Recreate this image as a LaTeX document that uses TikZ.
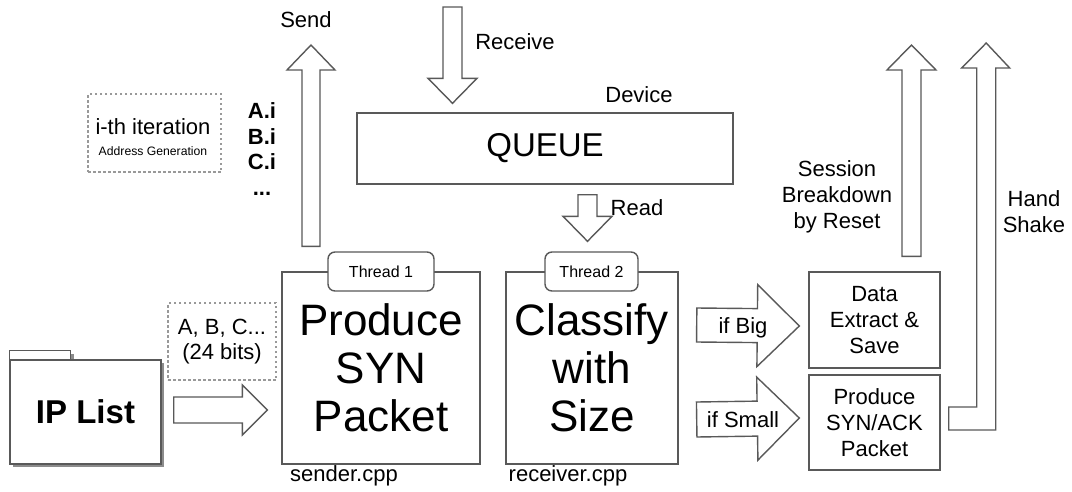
\documentclass[tikz,border=0pt]{standalone}
\usepackage{fontspec}
\setmainfont{Liberation Sans}
\usetikzlibrary{calc}
\newcommand\fsz[2]{\fontsize{#1}{#2}\selectfont}
% #1 start, #2 tip, #3 shaft half width, #4 head half width, #5 head length
\newcommand\blockarrow[5]{%
  \coordinate (hb) at ($(#2)!#5!(#1)$);
  \draw[barrow] ($(#1)!#3!90:(#2)$) -- ($(hb)!#3!-90:(#1)$) -- ($(hb)!#4!-90:(#1)$)
    -- (#2) -- ($(hb)!#4!90:(#1)$) -- ($(hb)!#3!90:(#1)$) -- ($(#1)!#3!-90:(#2)$) -- cycle;}
\tikzset{
  line/.style={draw=black!65, line width=1.4pt},
  box/.style={line, fill=white, rectangle, inner sep=0pt, align=center},
  tabbox/.style={line, fill=white, rectangle, rounded corners=7pt, inner sep=0pt, font=\fsz{16}{19}},
  dashbox/.style={draw=black!40, line width=1.3pt, dash pattern=on 2.5pt off 2.5pt, rectangle, inner sep=0pt, align=center},
  barrow/.style={line, fill=white, line join=miter},
  lbl/.style={inner sep=0pt, align=center, font=\fsz{22}{26}},
  big/.style={font=\fsz{44}{48}},
}
\begin{document}
\begin{tikzpicture}[x=1pt,y=-1pt]
\fill[white] (0,0) rectangle (1072,491);
\useasboundingbox (0,0) rectangle (1072,491);

% ---- IP list folder
\fill[black!45] (13,354) rectangle (74,363);
\fill[black!45] (13,363) rectangle (164,467);
\node[box, minimum width=151pt, minimum height=104pt, font=\bfseries\fsz{33}{38}] (iplist) at (85.5,412) {IP List};
\draw[line, fill=white] (iplist.north west) rectangle ++(61,-9);
\node[dashbox, minimum width=108pt, minimum height=77pt, font=\fsz{22}{25}] (abc) at (222,341.5) {A, B, C...\\(24 bits)};

% ---- Thread 1
\node[box, minimum width=198pt, minimum height=192pt, big] (t1) at (381,368) {Produce\\SYN\\Packet};
\node[tabbox, minimum width=106pt, minimum height=39pt] (t1tab) at (381,271.5) {Thread 1};
\node[lbl] (sender) at (344,476) {sender.cpp};

% ---- Thread 2
\node[box, minimum width=172pt, minimum height=192pt, big] (t2) at (592,368) {Classify\\with\\Size};
\node[tabbox, minimum width=93pt, minimum height=39pt] (t2tab) at (591.5,271.5) {Thread 2};
\node[lbl] (receiver) at (568,476) {receiver.cpp};

% ---- Queue
\node[box, minimum width=376pt, minimum height=71pt, font=\fsz{33}{38}] (queue) at (545,148.5) {QUEUE};
\node[lbl] (device) at (639,95) {Device};

% ---- iteration
\node[dashbox, minimum width=133pt, minimum height=78pt] (iter) at (154.5,133) {};
\node[lbl] (ith) at (153,127) {i-th iteration};
\node[inner sep=0pt, font=\fsz{12.2}{14}] (addr) at (153,151) {Address Generation};
\node[lbl, font=\bfseries\fsz{22}{25.5}] (abci) at (262,149) {A.i\\B.i\\C.i\\...};

% ---- right boxes
\node[box, minimum width=131pt, minimum height=96pt, font=\fsz{22}{26}] (data) at (874.5,320) {Data\\Extract \&\\Save};
\node[box, minimum width=131pt, minimum height=95pt, font=\fsz{22}{26}] (synack) at (874.5,422.5) {Produce\\SYN/ACK\\Packet};

% ---- block arrows
\coordinate (ipS) at ($(iplist.east)+(12,-2)$);
\coordinate (ipE) at ($(t1.west)+(-14,42)$);
\blockarrow{ipS}{ipE}{13pt}{25pt}{25pt}

\coordinate (sendS) at ($(t1tab.north)+(-70,-5)$);
\coordinate (sendE) at (311,45);
\blockarrow{sendS}{sendE}{9pt}{24pt}{25pt}
\node[lbl] (send) at (306,20) {Send};

\coordinate (recS) at (452.5,7);
\coordinate (recE) at ($(queue.north)+(-92.5,-9)$);
\blockarrow{recS}{recE}{9.5pt}{24.5pt}{25pt}
\node[lbl] (receive) at (515,42) {Receive};

\coordinate (readS) at ($(queue.south)+(42.5,10)$);
\coordinate (readE) at ($(t2tab.north)+(-4,-10)$);
\blockarrow{readS}{readE}{9.5pt}{24.5pt}{25pt}
\node[lbl] (read) at (637,208) {Read};

\coordinate (bigS) at ($(t2.east)+(18,-43)$);
\coordinate (bigE) at ($(data.west)+(-9,6)$);
\blockarrow{bigS}{bigE}{17pt}{41pt}{42pt}
\node[lbl] (ifbig) at (743,328) {if Big};

\coordinate (smS) at ($(t2.east)+(18,51.5)$);
\coordinate (smE) at ($(synack.west)+(-9,-4.5)$);
\blockarrow{smS}{smE}{17.5pt}{41.5pt}{42pt}
\node[lbl] (ifsmall) at (743,420) {if Small};

\coordinate (sesS) at ($(data.north)+(37,-15)$);
\coordinate (sesE) at (911.5,45);
\blockarrow{sesS}{sesE}{9.5pt}{24.5pt}{25pt}
\node[lbl] (session) at (837,197) {Session\\Breakdown\\by Reset};

% hand shake L-shaped arrow
\draw[barrow] ($(synack.east)+(8,-15.5)$) -- ++(28,0) -- ++(0,-339) -- ++(-15,0)
  -- ++(24.5,-25) -- ++(23.5,25) -- ++(-14,0) -- ++(0,362) -- ++(-47,0) -- cycle;
\node[lbl] (hand) at (1034,212) {Hand\\Shake};
\end{tikzpicture}
\end{document}
